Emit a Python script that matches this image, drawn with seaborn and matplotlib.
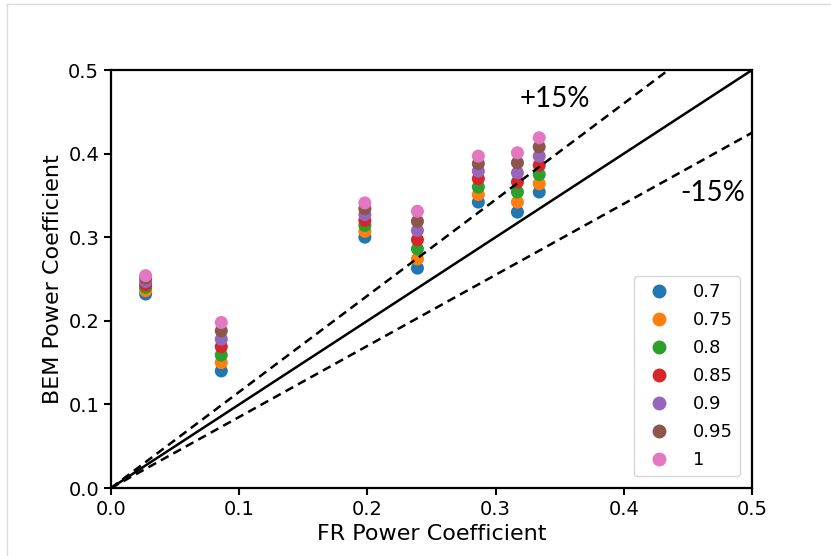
import numpy as np
import pandas as pd
import matplotlib
matplotlib.use("Agg")
import matplotlib.pyplot as plt
from matplotlib.lines import Line2D
import seaborn as sns

# ---- data ----
fr_power = [0.027, 0.086, 0.198, 0.239, 0.2865, 0.317, 0.334]
series_labels = ["0.7", "0.75", "0.8", "0.85", "0.9", "0.95", "1"]
bem_07 = [0.232, 0.140, 0.300, 0.263, 0.342, 0.330, 0.354]
bem_075 = [0.236, 0.150, 0.307, 0.274, 0.351, 0.342, 0.364]
bem_08 = [0.240, 0.159, 0.314, 0.286, 0.360, 0.354, 0.375]
bem_085 = [0.243, 0.169, 0.320, 0.297, 0.370, 0.366, 0.386]
bem_09 = [0.247, 0.178, 0.327, 0.308, 0.379, 0.377, 0.397]
bem_095 = [0.251, 0.188, 0.334, 0.319, 0.388, 0.389, 0.408]
bem_1 = [0.254, 0.198, 0.341, 0.331, 0.397, 0.401, 0.419]
bem_all = [bem_07, bem_075, bem_08, bem_085, bem_09, bem_095, bem_1]
ref_line = [0.0, 0.5]
ratio_plus = 1.15
ratio_minus = 0.85

rows = []
for lab, vals in zip(series_labels, bem_all):
    for x, y in zip(fr_power, vals):
        rows.append({"FR": x, "BEM": y, "series": lab})
df = pd.DataFrame(rows)

plt.rcParams["font.family"] = ["DejaVu Sans"]

fig = plt.figure(figsize=(8.31, 5.56), dpi=100)
ax = fig.add_axes([0.1336, 0.1223, 0.7714, 0.7518])

palette = sns.color_palette("tab10", 7)
sns.scatterplot(data=df, x="FR", y="BEM", hue="series", hue_order=series_labels,
                palette=palette, s=88, edgecolor="none", linewidth=0, ax=ax, zorder=2)

rl = np.array(ref_line)
ax.plot(rl, rl, color="black", lw=1.8, zorder=3)
ax.plot(rl, rl * ratio_plus, color="black", lw=1.8, ls=(0, (3.5, 2.2)), zorder=3)
ax.plot(rl, rl * ratio_minus, color="black", lw=1.8, ls=(0, (3.5, 2.2)), zorder=3)

ax.set_xlim(0, 0.5)
ax.set_ylim(0, 0.5)
ax.set_xticks([0.0, 0.1, 0.2, 0.3, 0.4, 0.5])
ax.set_yticks([0.0, 0.1, 0.2, 0.3, 0.4, 0.5])
ax.tick_params(labelsize=14, width=1.5, length=5, color="black", labelcolor="black")
for sp in ax.spines.values():
    sp.set_linewidth(1.6)
    sp.set_color("black")
ax.set_xlabel("FR Power Coefficient", fontsize=16, color="black")
ax.set_ylabel("BEM Power Coefficient", fontsize=16, color="black")

ax.text(0.346, 0.465, "+15%", fontsize=20, family=["Lato", "DejaVu Sans"],
        ha="center", va="center", color="black")
ax.text(0.469, 0.353, "-15%", fontsize=20, family=["Lato", "DejaVu Sans"],
        ha="center", va="center", color="black")

handles = [Line2D([0], [0], marker="o", ls="none", markersize=10,
                  markerfacecolor=c, markeredgecolor="none") for c in palette]
ax.legend(handles, series_labels, loc="lower right", fontsize=13,
          frameon=True, handletextpad=0.9, labelspacing=0.55, borderaxespad=0.65)

# faint outer frame
fig.add_artist(Line2D([7/831, 830/831], [1-4/556, 1-4/556], color="#dddddd", lw=1,
                      transform=fig.transFigure))
fig.add_artist(Line2D([7/831, 7/831], [0, 1-4/556], color="#dddddd", lw=1,
                      transform=fig.transFigure))

fig.savefig("out.png", dpi=100)
